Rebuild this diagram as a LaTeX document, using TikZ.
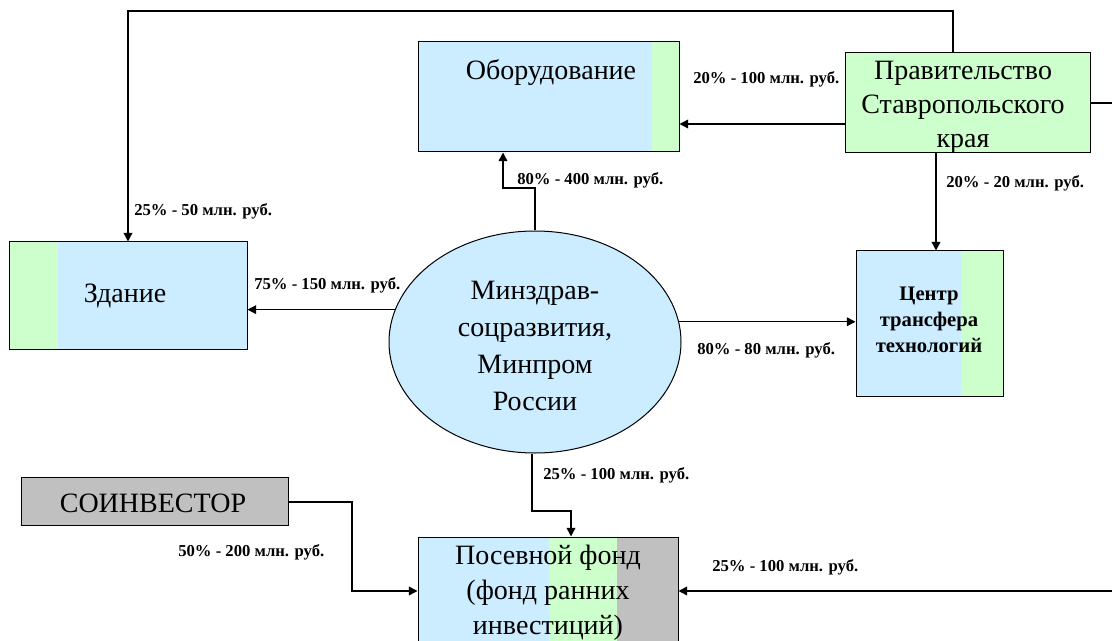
\documentclass[tikz,border=0pt]{standalone}
\usepackage{fontspec}
\setmainfont{Liberation Serif}
\usetikzlibrary{arrows.meta,shapes.geometric}
\definecolor{lblue}{HTML}{CCECFF}
\definecolor{lgreen}{HTML}{CCFFCC}
\definecolor{lgray}{HTML}{C0C0C0}
\begin{document}
\begin{tikzpicture}[x=0.75pt,y=-0.75pt,
 box/.style={draw=black, line width=0.75pt, inner sep=0pt},
 conn/.style={line width=1.1pt},
 arr/.style={conn,-{Triangle[length=6.5pt,width=6.5pt]}},
 lbl/.style={font=\fontsize{12.5}{14}\selectfont\bfseries, inner sep=0pt, anchor=west},
 big/.style={font=\fontsize{21}{25.5}\selectfont, align=center, inner sep=0pt},
 mid/.style={font=\fontsize{15.5}{19.5}\selectfont\bfseries, align=center, inner sep=0pt},
]
\useasboundingbox (0,0) rectangle (1112,641);
\clip (0,0) rectangle (1112,641);
\fill[white] (0,0) rectangle (1112,641);

% fills
\fill[lblue] (418,42) rectangle (652,152);
\fill[lgreen] (652,42) rectangle (679,152);
\fill[lgreen] (845,53) rectangle (1090,153);
\fill[lgreen] (9,242) rectangle (58,349);
\fill[lblue] (58,242) rectangle (247,349);
\fill[lblue] (856,251) rectangle (961,396);
\fill[lgreen] (961,251) rectangle (1003,396);
\fill[lgray] (21,477) rectangle (288,525);
\fill[lblue] (418,537) rectangle (549,700);
\fill[lgreen] (549,537) rectangle (617,700);
\fill[lgray] (617,537) rectangle (678,700);

% boxes
\node[box, minimum width=195.75pt, minimum height=82.5pt] (ob) at (548.5,97) {};
\node[box, minimum width=183.75pt, minimum height=75pt] (gov) at (967.5,103) {};
\node[box, minimum width=178.5pt, minimum height=80.25pt] (zd) at (128,295.5) {};
\node[box, minimum width=110.25pt, minimum height=108.75pt] (centr) at (929.5,323.5) {};
\node[box, ellipse, fill=lblue, minimum width=219pt, minimum height=166.5pt] (ell) at (535,342) {};
\node[box, minimum width=200.25pt, minimum height=36pt] (soi) at (154.5,501) {};
\node[box, minimum width=195pt, minimum height=122.25pt] (fund) at (548,618.5) {};

% texts
\node[big] (obt) at (551,73) {Оборудование};
\node[big] (govt) at (963,107) {Правительство\\Ставропольского\\края};
\node[big] (zdt) at (125,296) {Здание};
\node[mid] (centrt) at (929,320) {Центр\\трансфера\\технологий};
\node[big, font=\fontsize{21}{27.75}\selectfont] (ellt) at (535,346) {Минздрав-\\соцразвития,\\Минпром\\России};
\node[big] (soit) at (153,503) {СОИНВЕСТОР};
\node[big, font=\fontsize{21}{26.25}\selectfont] (fundt) at (548,593) {Посевной фонд\\(фонд ранних\\инвестиций)};

% connectors
\coordinate (c1) at (953,11);
\coordinate (c2) at (128,11);
\draw[arr] (gov.north -| c1) -- (c1) -- (c2) -- (zd.north -| c2);
\coordinate (c3) at (0,124);
\draw[arr] (gov.west |- c3) -- (ob.east |- c3);
\coordinate (c4) at (936,0);
\draw[arr] (gov.south -| c4) -- (centr.north -| c4);
\coordinate (c5) at (1130,103);
\coordinate (c6) at (1130,591);
\draw[arr] (gov.east |- c5) -- (c5) -- (c6) -- (fund.east |- c6);
\coordinate (c7) at (535,188);
\coordinate (c8) at (503,188);
\draw[arr] (ell.north) -- (c7) -- (c8) -- (ob.south -| c8);
\draw[arr] (ell.167) -- (ell.167 -| zd.east);
\draw[arr] (ell.8.7) -- (ell.8.7 -| centr.west);
\coordinate (c9) at (532,511);
\coordinate (c10) at (571,511);
\draw[arr] (ell.south -| c9) -- (c9) -- (c10) -- (fund.north -| c10);
\coordinate (c11) at (352,502);
\coordinate (c12) at (352,591);
\draw[arr] (soi.east |- c11) -- (c11) -- (c12) -- (fund.west |- c12);

% labels
\node[lbl] (l1) at (693,79) {20\% - 100 млн. руб.};
\node[lbl] (l2) at (517,180) {80\% - 400 млн. руб.};
\node[lbl] (l3) at (946,183) {20\% - 20 млн. руб.};
\node[lbl] (l4) at (134,211) {25\% - 50 млн. руб.};
\node[lbl] (l5) at (254,285) {75\% - 150 млн. руб.};
\node[lbl] (l6) at (697,350) {80\% - 80 млн. руб.};
\node[lbl] (l7) at (543,475) {25\% - 100 млн. руб.};
\node[lbl] (l8) at (178,552) {50\% - 200 млн. руб.};
\node[lbl] (l9) at (712,567) {25\% - 100 млн. руб.};
\end{tikzpicture}
\end{document}
